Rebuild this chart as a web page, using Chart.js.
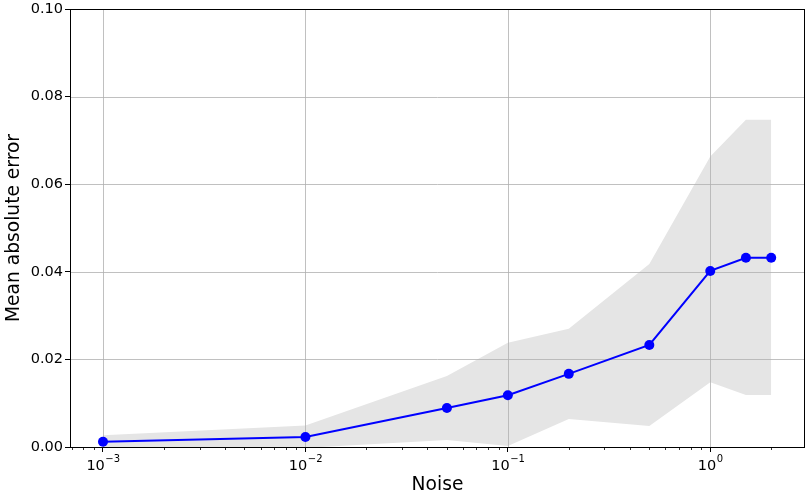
<!DOCTYPE html>
<html>
<head>
<meta charset="utf-8">
<script src="https://cdn.jsdelivr.net/npm/chart.js@4.4.0/dist/chart.umd.min.js"></script>
<style>
  html, body { margin: 0; padding: 0; background: #fff; overflow: hidden; }
  #wrap { width: 810px; height: 493px; }
</style>
</head>
<body>
<div id="wrap"><canvas id="myChart"></canvas></div>
<script>
// Datos
const noise = [0.001, 0.01, 0.05, 0.1, 0.2, 0.5, 1, 1.5, 2];
const meanErr = [0.0012, 0.0023, 0.0089, 0.0118, 0.0167, 0.0233, 0.0402, 0.0432, 0.0432];
const upperErr = [0.0027, 0.0049, 0.0162, 0.0238, 0.0270, 0.0418, 0.0663, 0.0747, 0.0747];
const lowerErr = [-0.0003, -0.0002, 0.0016, 0.0002, 0.0064, 0.0048, 0.0148, 0.0119, 0.0119];
const xTicks = [0.001, 0.01, 0.1, 1];
const xTickExp = ['−3', '−2', '−1', '0'];
const yTicks = [0, 0.02, 0.04, 0.06, 0.08, 0.1];

const font = { family: 'DejaVu Sans', size: 14.5 };
const titleFont = { family: 'DejaVu Sans', size: 18.67 };
const gridColor = '#b0b0b0';

function pts(ys) {
  return noise.map((x, i) => ({ x: x, y: ys[i] }));
}

function noPad(s) {
  s.paddingLeft = 0; s.paddingRight = 0; s.paddingTop = 0; s.paddingBottom = 0;
}

// Rejilla encima de la banda, ticks menores, etiquetas 10^n y marco
const decorPlugin = {
  id: 'decor',
  afterDatasetDraw(chart, args) {
    if (args.index !== 2) return;
    const { ctx, chartArea: a, scales } = chart;
    ctx.save();
    ctx.strokeStyle = gridColor;
    ctx.lineWidth = 0.8;
    ctx.beginPath();
    xTicks.forEach(v => {
      const px = Math.round(scales.x.getPixelForValue(v)) + 0.5;
      ctx.moveTo(px, a.top); ctx.lineTo(px, a.bottom);
    });
    yTicks.forEach(v => {
      const py = Math.round(scales.y.getPixelForValue(v)) + 0.5;
      ctx.moveTo(a.left, py); ctx.lineTo(a.right, py);
    });
    ctx.stroke();
    ctx.restore();
  },
  afterDraw(chart) {
    const { ctx, chartArea: a, scales } = chart;
    ctx.save();
    ctx.strokeStyle = '#000';
    ctx.lineWidth = 0.8;
    ctx.beginPath();
    for (let d = -4; d <= 0; d++) {
      for (let m = 2; m <= 9; m++) {
        const v = m * Math.pow(10, d);
        if (v < scales.x.min || v > scales.x.max) continue;
        const px = Math.round(scales.x.getPixelForValue(v)) + 0.5;
        ctx.moveTo(px, a.bottom); ctx.lineTo(px, a.bottom + 3);
      }
    }
    ctx.stroke();
    ctx.lineWidth = 1;
    ctx.strokeRect(Math.round(a.left) + 0.5, Math.round(a.top) + 0.5,
      Math.round(a.right - a.left) - 1, Math.round(a.bottom - a.top));

    // etiquetas del eje x con exponente
    ctx.fillStyle = '#000';
    ctx.textBaseline = 'alphabetic';
    ctx.textAlign = 'left';
    xTicks.forEach((v, i) => {
      const px = scales.x.getPixelForValue(v);
      ctx.font = '14.5px "DejaVu Sans"';
      const wBase = ctx.measureText('10').width;
      ctx.font = '10px "DejaVu Sans"';
      const wExp = ctx.measureText(xTickExp[i]).width;
      const x0 = px - (wBase + wExp) / 2;
      ctx.font = '14.5px "DejaVu Sans"';
      ctx.fillText('10', x0, a.bottom + 23);
      ctx.font = '10px "DejaVu Sans"';
      ctx.fillText(xTickExp[i], x0 + wBase + 0.5, a.bottom + 15);
    });
    ctx.restore();
  }
};

const ctx = document.getElementById('myChart').getContext('2d');

const chart = new Chart(ctx, {
  type: 'line',
  data: {
    datasets: [
      {
        label: 'Media',
        data: pts(meanErr),
        borderColor: '#0000ff',
        backgroundColor: '#0000ff',
        borderWidth: 2,
        pointRadius: 5,
        pointBorderWidth: 0,
        fill: false,
        tension: 0
      },
      {
        label: 'Inferior',
        data: pts(lowerErr),
        borderColor: 'rgba(0,0,0,0)',
        borderWidth: 0,
        pointRadius: 0,
        fill: false
      },
      {
        label: 'Superior',
        data: pts(upperErr),
        borderColor: 'rgba(0,0,0,0)',
        borderWidth: 0,
        pointRadius: 0,
        backgroundColor: '#e5e5e5',
        fill: 1
      }
    ]
  },
  options: {
    responsive: true,
    maintainAspectRatio: false,
    animation: false,
    layout: { padding: { top: 9, right: 1, left: 0, bottom: 0 } },
    plugins: {
      legend: { display: false },
      tooltip: { enabled: false }
    },
    scales: {
      x: {
        type: 'logarithmic',
        min: Math.pow(10, -3.163),
        max: Math.pow(10, 0.468),
        afterBuildTicks: s => { s.ticks = xTicks.map(v => ({ value: v })); },
        afterFit: s => { s.height = 46; noPad(s); },
        ticks: {
          autoSkip: false,
          maxRotation: 0,
          color: '#000',
          font: font,
          padding: 0,
          callback: () => ''
        },
        grid: {
          drawOnChartArea: false,
          tickLength: 5,
          tickColor: '#000',
          lineWidth: 1
        },
        border: { display: false },
        title: {
          display: true,
          text: 'Noise',
          color: '#000',
          font: titleFont,
          padding: { top: 0, bottom: -3 }
        }
      },
      y: {
        min: 0,
        max: 0.1,
        afterBuildTicks: s => { s.ticks = yTicks.map(v => ({ value: v })); },
        afterFit: s => { s.width = 70; noPad(s); },
        ticks: {
          color: '#000',
          font: font,
          padding: 2,
          callback: v => v.toFixed(2)
        },
        grid: {
          drawOnChartArea: false,
          tickLength: 5,
          tickColor: '#000',
          lineWidth: 1
        },
        border: { display: false },
        title: {
          display: true,
          text: 'Mean absolute error',
          color: '#000',
          font: titleFont,
          padding: { top: 3, bottom: 0 }
        }
      }
    }
  },
  plugins: [decorPlugin]
});
</script>
</body>
</html>
